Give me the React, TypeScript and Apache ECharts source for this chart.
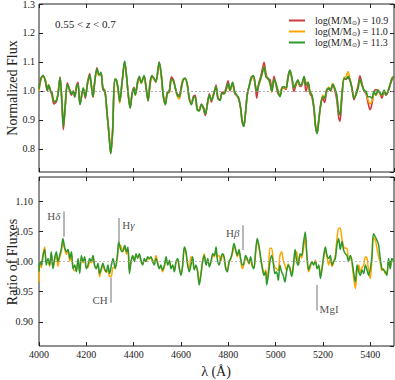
import React, { useEffect, useRef } from 'react';
import * as echarts from 'echarts';

// ---------- Top panel: normalized stacked spectra ----------
const wavelengthsTop = [
  4000, 4007, 4017, 4027, 4035, 4041, 4049, 4055, 4063, 4073,
  4080, 4089, 4097, 4103, 4111, 4120, 4130, 4137, 4145, 4151,
  4159, 4165, 4173, 4182, 4187, 4196, 4204, 4214, 4221, 4228,
  4235, 4245, 4254, 4262, 4270, 4279, 4287, 4296, 4303, 4311,
  4320, 4327, 4334, 4341, 4351, 4362, 4370, 4377, 4385, 4393,
  4401, 4407, 4417, 4424, 4432, 4444, 4452, 4461, 4469, 4477,
  4486, 4494, 4508, 4517, 4525, 4534, 4542, 4551, 4559, 4568,
  4576, 4584, 4593, 4601, 4610, 4618, 4627, 4635, 4644, 4652,
  4660, 4669, 4677, 4686, 4694, 4703, 4711, 4720, 4728, 4739,
  4748, 4756, 4765, 4773, 4782, 4790, 4799, 4807, 4818, 4827,
  4835, 4844, 4852, 4858, 4865, 4872, 4880, 4889, 4897, 4906,
  4914, 4920, 4928, 4937, 4945, 4951, 4959, 4968, 4976, 4984,
  4993, 5001, 5010, 5018, 5027, 5035, 5044, 5052, 5060, 5069,
  5077, 5086, 5094, 5103, 5111, 5120, 5128, 5137, 5145, 5153,
  5162, 5168, 5175, 5182, 5190, 5199, 5207, 5215, 5224, 5232,
  5241, 5249, 5258, 5266, 5272, 5280, 5289, 5297, 5306, 5314,
  5322, 5331, 5339, 5348, 5356, 5365, 5373, 5382, 5390, 5399,
  5407, 5415, 5424, 5432, 5441, 5449, 5458, 5466, 5474, 5483,
  5492, 5500,
];

const fluxMass109 = [
  1.005, 1.042, 1.053, 1.032, 1.0, 1.018, 0.998, 0.985, 0.955, 0.962,
  0.99, 1.048, 0.955, 0.866, 0.948, 1.028, 1.0, 0.985, 1.0, 0.978,
  1.02, 1.03, 0.955, 0.99, 1.005, 0.975, 1.025, 1.06, 1.02, 0.978,
  1.025, 1.08, 1.055, 1.058, 1.005, 0.995, 0.925, 0.848, 0.785, 0.862,
  1.038, 1.035, 1.005, 0.965, 1.028, 1.1, 1.048, 0.985, 0.945, 0.99,
  1.012, 0.99, 1.035, 1.045, 1.03, 1.05, 1.012, 0.965, 1.03, 1.05,
  1.04, 1.03, 1.1, 1.05, 0.98, 0.955, 0.995, 1.002, 1.048, 1.038,
  1.01, 0.99, 0.985, 1.015, 1.04, 1.04, 1.02, 0.97, 0.955, 0.98,
  0.985, 0.935, 0.935, 0.955, 0.94, 0.915, 0.955, 0.99, 0.962, 0.99,
  1.02, 0.972, 0.97, 0.995, 0.995, 1.01, 1.035, 1.0, 1.025, 0.99,
  0.985, 0.97, 0.94, 0.895, 0.878, 0.92, 0.99, 1.02, 1.048, 1.05,
  1.015, 0.975, 1.025, 1.05, 1.08, 1.099, 1.06, 1.04, 1.04, 1.0,
  1.05, 1.022, 0.99, 0.985, 1.012, 1.01, 1.005, 1.05, 1.07, 1.04,
  0.998, 1.02, 1.035, 1.015, 1.02, 1.045, 0.998, 1.025, 0.99, 0.98,
  0.935, 0.878, 0.855, 0.9, 0.95, 0.975, 0.96, 0.995, 1.008, 1.0,
  1.02, 1.005, 0.97, 0.91, 0.895, 0.98, 1.04, 1.04, 1.045, 1.035,
  1.012, 0.97, 0.99, 1.018, 1.052, 1.025, 1.0, 0.99, 0.96, 0.935,
  0.955, 0.995, 1.005, 1.0, 0.99, 0.975, 0.998, 0.985, 0.995, 1.018,
  1.04, 1.05,
];

const fluxMass110 = [
  1.0, 1.035, 1.05, 1.038, 1.01, 1.022, 1.0, 0.995, 0.965, 0.968,
  0.988, 1.045, 0.962, 0.88, 0.955, 1.02, 1.005, 0.992, 0.995, 0.982,
  1.012, 1.02, 0.955, 0.995, 1.01, 0.982, 1.018, 1.05, 1.018, 0.982,
  1.028, 1.07, 1.052, 1.06, 1.012, 1.0, 0.93, 0.85, 0.785, 0.858,
  1.04, 1.036, 1.008, 0.958, 1.028, 1.1, 1.05, 0.99, 0.942, 0.985,
  1.01, 0.985, 1.028, 1.048, 1.026, 1.05, 1.018, 0.97, 1.018, 1.05,
  1.042, 1.03, 1.095, 1.052, 0.988, 0.955, 0.99, 0.995, 1.035, 1.035,
  1.008, 0.982, 0.972, 1.005, 1.038, 1.042, 1.018, 0.975, 0.955, 0.975,
  0.978, 0.935, 0.932, 0.95, 0.945, 0.922, 0.95, 0.985, 0.968, 0.995,
  1.015, 0.978, 0.968, 0.99, 0.99, 1.0, 1.02, 1.003, 1.028, 0.996,
  0.985, 0.975, 0.942, 0.9, 0.88, 0.92, 0.985, 1.018, 1.04, 1.05,
  1.02, 1.0, 1.018, 1.04, 1.065, 1.085, 1.05, 1.042, 1.025, 0.995,
  1.038, 1.025, 1.0, 0.982, 1.008, 1.012, 1.008, 1.042, 1.07, 1.045,
  1.01, 1.025, 1.035, 1.018, 1.025, 1.045, 1.03, 1.028, 0.995, 0.985,
  0.942, 0.885, 0.855, 0.895, 0.95, 0.985, 0.978, 1.0, 1.012, 1.005,
  1.025, 1.012, 0.985, 0.93, 0.92, 0.99, 1.045, 1.05, 1.067, 1.04,
  1.012, 0.978, 0.985, 1.008, 1.038, 1.018, 1.002, 0.995, 0.97, 0.955,
  0.965, 0.99, 0.985, 1.005, 0.99, 0.985, 1.0, 0.988, 1.0, 1.022,
  1.045, 1.05,
];

const fluxMass113 = [
  1.005, 1.038, 1.053, 1.035, 1.003, 1.02, 1.0, 0.992, 0.963, 0.965,
  0.986, 1.046, 0.96, 0.877, 0.952, 1.023, 1.003, 0.99, 0.998, 0.98,
  1.015, 1.023, 0.952, 0.992, 1.01, 0.98, 1.02, 1.055, 1.02, 0.98,
  1.03, 1.076, 1.055, 1.064, 1.01, 0.998, 0.929, 0.848, 0.783, 0.86,
  1.041, 1.038, 1.01, 0.963, 1.03, 1.103, 1.05, 0.99, 0.94, 0.986,
  1.01, 0.986, 1.03, 1.05, 1.028, 1.053, 1.015, 0.967, 1.02, 1.053,
  1.044, 1.032, 1.099, 1.055, 0.986, 0.952, 0.992, 0.998, 1.04, 1.035,
  1.01, 0.986, 0.98, 1.01, 1.04, 1.044, 1.02, 0.975, 0.952, 0.975,
  0.98, 0.934, 0.931, 0.952, 0.945, 0.92, 0.952, 0.986, 0.967, 0.992,
  1.015, 0.975, 0.967, 0.992, 0.99, 1.003, 1.026, 1.003, 1.03, 0.998,
  0.986, 0.975, 0.94, 0.9, 0.877, 0.917, 0.986, 1.02, 1.044, 1.053,
  1.02, 0.998, 1.02, 1.044, 1.067, 1.084, 1.048, 1.044, 1.026, 0.998,
  1.04, 1.026, 0.998, 0.98, 1.01, 1.015, 1.01, 1.044, 1.072, 1.044,
  1.01, 1.026, 1.038, 1.02, 1.026, 1.05, 1.02, 1.03, 0.998, 0.986,
  0.94, 0.883, 0.852, 0.895, 0.952, 0.98, 0.975, 1.003, 1.01, 1.003,
  1.023, 1.01, 0.986, 0.929, 0.917, 0.986, 1.044, 1.041, 1.05, 1.038,
  1.01, 0.975, 0.986, 1.01, 1.04, 1.02, 1.003, 0.998, 0.98, 0.98,
  0.975, 0.998, 0.986, 1.003, 0.992, 0.986, 1.003, 0.986, 0.998, 1.02,
  1.044, 1.05,
];

const massLabels = ['10.9', '11.0', '11.3'];

// ---------- Bottom panel: flux ratios ----------
const wavelengthsRatio = [
  4000, 4003, 4010, 4017, 4024, 4031, 4038, 4045, 4052, 4059,
  4066, 4073, 4080, 4087, 4094, 4101, 4108, 4116, 4123, 4130,
  4137, 4144, 4151, 4158, 4165, 4172, 4179, 4186, 4193, 4200,
  4207, 4214, 4221, 4228, 4235, 4242, 4249, 4256, 4263, 4270,
  4277, 4284, 4291, 4298, 4306, 4313, 4322, 4331, 4337, 4345,
  4353, 4362, 4370, 4376, 4382, 4389, 4396, 4403, 4410, 4417,
  4424, 4431, 4438, 4445, 4452, 4459, 4466, 4473, 4480, 4487,
  4494, 4501, 4508, 4515, 4522, 4530, 4537, 4544, 4551, 4558,
  4565, 4572, 4579, 4586, 4593, 4600, 4607, 4614, 4621, 4628,
  4635, 4642, 4649, 4656, 4663, 4670, 4677, 4684, 4691, 4698,
  4706, 4713, 4720, 4727, 4734, 4741, 4748, 4753, 4761, 4768,
  4775, 4782, 4789, 4796, 4803, 4810, 4817, 4824, 4831, 4838,
  4845, 4852, 4859, 4866, 4873, 4880, 4887, 4894, 4901, 4908,
  4915, 4922, 4929, 4937, 4944, 4951, 4958, 4962, 4969, 4976,
  4983, 4990, 4997, 5004, 5011, 5018, 5025, 5032, 5039, 5046,
  5053, 5060, 5068, 5075, 5082, 5089, 5096, 5103, 5110, 5117,
  5125, 5132, 5139, 5146, 5153, 5160, 5168, 5175, 5182, 5189,
  5196, 5203, 5210, 5217, 5224, 5231, 5238, 5245, 5252, 5259,
  5266, 5273, 5280, 5287, 5294, 5301, 5308, 5315, 5322, 5329,
  5337, 5344, 5351, 5358, 5365, 5372, 5379, 5386, 5393, 5400,
  5407, 5413, 5421, 5428, 5435, 5442, 5449, 5456, 5463, 5470,
  5477, 5484, 5491, 5500,
];

const ratioMass110 = [
  0.966, 0.995, 0.99, 1.012, 1.024, 0.998, 1.002, 0.992, 1.012, 0.99,
  1.002, 1.012, 0.992, 1.006, 1.016, 1.032, 1.022, 1.012, 1.018, 1.0,
  1.012, 0.99, 0.985, 0.986, 1.0, 0.984, 1.006, 0.998, 1.004, 0.99,
  0.99, 1.0, 0.998, 1.006, 0.992, 0.99, 0.994, 0.975, 0.986, 0.994,
  0.986, 0.982, 0.985, 0.975, 0.976, 0.99, 0.99, 1.005, 1.025, 1.027,
  1.018, 1.022, 1.012, 1.02, 0.985, 1.0, 1.008, 1.002, 1.01, 1.008,
  1.01, 1.0, 0.996, 1.002, 1.0, 1.005, 1.004, 1.006, 1.002, 0.998,
  1.01, 1.0, 0.99, 0.99, 0.983, 0.992, 1.004, 0.996, 1.0, 0.99,
  0.992, 0.986, 0.998, 1.002, 0.99, 0.98, 0.992, 1.02, 1.014, 0.996,
  0.986, 1.008, 1.004, 0.988, 0.992, 0.985, 0.966, 0.98, 0.998, 1.013,
  0.996, 1.002, 0.994, 1.0, 1.01, 1.008, 1.02, 1.008, 1.01, 1.0,
  1.01, 1.006, 0.99, 0.986, 0.998, 1.004, 1.012, 1.025, 1.018, 1.008,
  1.016, 1.002, 0.988, 0.995, 1.006, 1.002, 0.996, 1.004, 0.992, 0.99,
  1.012, 1.032, 1.024, 1.004, 0.99, 0.98, 0.986, 0.97, 0.985, 1.022,
  1.022, 1.0, 0.99, 0.988, 0.985, 1.01, 1.016, 1.002, 0.994, 0.985,
  0.996, 0.99, 0.98, 0.992, 1.012, 1.016, 0.996, 1.01, 1.006, 1.02,
  1.04, 1.008, 0.983, 0.99, 0.998, 0.996, 1.002, 0.99, 0.992, 0.978,
  0.99, 1.006, 1.018, 1.008, 0.994, 1.004, 0.992, 0.998, 1.01, 1.038,
  1.055, 1.055, 1.038, 1.025, 1.022, 1.022, 1.004, 1.006, 0.998, 0.975,
  0.955, 0.985, 0.994, 0.982, 0.99, 0.994, 1.008, 1.005, 0.983, 0.972,
  1.005, 1.04, 1.035, 1.022, 1.008, 0.998, 0.985, 0.988, 0.98, 0.982,
  1.0, 0.99, 1.0, 1.0,
];

const ratioMass113 = [
  0.983, 1.0, 0.994, 1.01, 1.02, 0.994, 1.005, 0.994, 1.016, 0.988,
  1.005, 1.016, 1.0, 1.01, 1.02, 1.038, 1.024, 1.016, 1.02, 1.005,
  1.016, 0.988, 0.994, 0.983, 1.005, 0.98, 1.01, 1.0, 1.008, 0.988,
  0.994, 1.005, 1.0, 1.01, 0.994, 0.988, 0.997, 0.98, 0.988, 0.997,
  0.988, 0.983, 0.994, 0.98, 0.994, 1.005, 0.988, 1.01, 1.033, 1.02,
  1.016, 1.027, 1.016, 1.024, 0.98, 1.0, 1.01, 1.0, 1.013, 1.005,
  1.013, 1.002, 0.994, 1.005, 1.0, 1.008, 1.005, 1.008, 1.0, 0.994,
  1.005, 0.997, 0.988, 0.994, 0.986, 0.994, 1.008, 0.994, 1.002, 0.988,
  0.994, 0.983, 1.0, 1.005, 0.988, 0.977, 0.994, 1.024, 1.016, 0.994,
  0.983, 0.994, 1.008, 0.986, 0.994, 0.983, 0.961, 0.977, 1.0, 1.01,
  0.994, 1.005, 0.991, 1.0, 1.013, 1.01, 1.024, 1.005, 0.994, 1.005,
  1.013, 1.008, 0.988, 0.983, 1.0, 1.005, 1.016, 1.03, 1.02, 1.01,
  1.02, 1.005, 0.994, 0.997, 1.01, 1.005, 0.997, 1.008, 0.994, 0.988,
  1.016, 1.038, 1.027, 1.005, 0.988, 0.977, 0.983, 0.961, 0.977, 1.0,
  1.01, 0.997, 0.98, 0.983, 0.969, 0.994, 0.983, 0.977, 0.966, 0.983,
  0.994, 0.988, 0.975, 0.994, 1.02, 1.0, 0.994, 1.013, 1.01, 1.03,
  1.049, 1.01, 0.986, 0.994, 1.0, 0.994, 1.0, 0.988, 0.994, 0.972,
  0.988, 1.01, 1.024, 1.01, 1.005, 1.01, 0.994, 1.0, 1.005, 1.027,
  1.038, 1.02, 1.033, 1.019, 1.013, 1.01, 1.0, 1.01, 1.002, 0.983,
  0.966, 0.994, 0.983, 0.977, 0.986, 0.98, 0.994, 0.986, 0.977, 0.988,
  1.01, 1.046, 1.041, 1.035, 1.027, 1.005, 0.988, 0.986, 0.983, 0.977,
  1.005, 0.988, 1.005, 1.0,
];

// ---------- Spectral feature annotations (bottom panel) ----------
const featureNames = ['Hδ', 'Hγ', 'CH', 'Hβ', 'MgI'];
const featureWavelengths = [4103, 4339, 4303, 4860, 5173];
const featureLineLow = [1.041, 1.032, 0.9315, 1.019, 0.919];
const featureLineHigh = [1.083, 1.072, 0.9735, 1.06, 0.961];
const featureLabelValue = [1.075, 1.06, 0.937, 1.048, 0.921];
const featureLabelSide = ['left', 'right', 'left', 'left', 'right'];

const redshiftText = '0.55 < {i|z} < 0.7';
const topYTitle = 'Normalized Flux';
const bottomYTitle = 'Ratio of Fluxes';
const xTitle = 'λ (Å)';

const FONT = 'Liberation Serif';
const INK = '#222';
const COLORS = ['#d03a3a', '#ffa500', '#2c982c'];

const zip = (xs: number[], ys: number[]) => xs.map((x, i) => [x, ys[i]]);

export default function App() {
  const ref = useRef<HTMLDivElement>(null);

  useEffect(() => {
    if (!ref.current) return;
    const chart = echarts.init(ref.current, undefined, { renderer: 'svg' });

    const tick = { show: true, inside: true, length: 4, lineStyle: { color: INK, width: 1 } };
    const xBase = {
      type: 'value',
      min: 4000,
      max: 5500,
      interval: 200,
      axisLine: { show: false },
      axisTick: tick,
      splitLine: { show: false },
    };
    const seriesNames = massLabels.map((m) => `log(M/M⊙) = ${m}`);
    const topFlux = [fluxMass109, fluxMass110, fluxMass113];
    const richNames = featureNames.map((n) => n.replace(/([δγβ])/, '{i|$1}'));

    const option: any = {
      animation: false,
      textStyle: { fontFamily: FONT, color: INK },
      grid: [
        { left: 39, right: 1, top: 4, height: 168, show: true, borderColor: INK, borderWidth: 1, backgroundColor: 'transparent', outerBoundsMode: 'none', containLabel: false },
        { left: 39, right: 1, top: 177, height: 169, show: true, borderColor: INK, borderWidth: 1, backgroundColor: 'transparent', outerBoundsMode: 'none', containLabel: false },
      ],
      xAxis: [
        { ...xBase, gridIndex: 0, position: 'bottom', axisLabel: { show: false } },
        { ...xBase, gridIndex: 0, position: 'top', axisLabel: { show: false } },
        {
          ...xBase,
          gridIndex: 1,
          position: 'bottom',
          axisLabel: {
            show: true, fontSize: 10, color: INK, fontFamily: FONT, margin: 3, showMaxLabel: false,
            formatter: (v: number) => String(v),
          },
        },
        { ...xBase, gridIndex: 1, position: 'top', axisLabel: { show: false } },
      ],
      yAxis: [
        {
          type: 'value', gridIndex: 0, position: 'left', min: 0.72, max: 1.3, minInterval: 0.1, maxInterval: 0.1, splitNumber: 5,
          axisLine: { show: false }, axisTick: tick, splitLine: { show: false },
          axisLabel: { fontSize: 10, color: INK, fontFamily: FONT, margin: 4, showMinLabel: false, formatter: (v: number) => v.toFixed(1) },
        },
        {
          type: 'value', gridIndex: 0, position: 'right', min: 0.72, max: 1.3, minInterval: 0.1, maxInterval: 0.1, splitNumber: 5,
          axisLine: { show: false }, axisTick: tick, splitLine: { show: false }, axisLabel: { show: false },
        },
        {
          type: 'value', gridIndex: 1, position: 'left', min: 0.86, max: 1.14, minInterval: 0.05, maxInterval: 0.05, splitNumber: 5,
          axisLine: { show: false }, axisTick: tick, splitLine: { show: false },
          axisLabel: { fontSize: 10, color: INK, fontFamily: FONT, margin: 6, showMinLabel: false, showMaxLabel: false, formatter: (v: number) => v.toFixed(2) },
        },
        {
          type: 'value', gridIndex: 1, position: 'right', min: 0.86, max: 1.14, minInterval: 0.05, maxInterval: 0.05, splitNumber: 5,
          axisLine: { show: false }, axisTick: tick, splitLine: { show: false }, axisLabel: { show: false },
        },
      ],
      legend: {
        data: seriesNames,
        orient: 'vertical',
        left: 284,
        top: 10,
        itemWidth: 16,
        itemHeight: 2,
        itemGap: 0,
        icon: 'rect',
        formatter: (name: string) => name.replace('⊙', '{s|⊙}'),
        textStyle: {
          fontFamily: FONT,
          fontSize: 10,
          color: INK,
          lineHeight: 11,
          padding: [0, 0, 0, 5],
          rich: {
            s: { fontFamily: FONT, fontSize: 6, color: INK, padding: [5, 0, 0, 0] },
          },
        },
      },
      graphic: [
        {
          type: 'text', x: 55, y: 24,
          style: {
            text: redshiftText, font: `11px "${FONT}"`, fill: INK, verticalAlign: 'middle', align: 'left',
            rich: { i: { fontFamily: FONT, fontSize: 11, fontStyle: 'italic', fill: INK } },
          },
        },
        {
          type: 'text', x: 12, y: 88, rotation: Math.PI / 2,
          style: { text: topYTitle, font: `14px "${FONT}"`, fill: INK, align: 'center', verticalAlign: 'middle' },
        },
        {
          type: 'text', x: 12, y: 262, rotation: Math.PI / 2,
          style: { text: bottomYTitle, font: `14px "${FONT}"`, fill: INK, align: 'center', verticalAlign: 'middle' },
        },
        {
          type: 'text', x: 216, y: 371,
          style: { text: xTitle, font: `14px "${FONT}"`, fill: INK, align: 'center', verticalAlign: 'middle' },
        },
      ],
      series: [
        ...topFlux.map((flux, k) => ({
          name: seriesNames[k],
          type: 'line',
          xAxisIndex: 0,
          yAxisIndex: 0,
          data: zip(wavelengthsTop, flux),
          showSymbol: false,
          symbol: 'none',
          smooth: 0.3,
          color: COLORS[k],
          lineStyle: { color: COLORS[k], width: 1.6 },
          z: 2 + k,
          markLine: k === 0 ? {
            silent: true, symbol: ['none', 'none'], label: { show: false },
            lineStyle: { color: '#999', width: 0.8, type: [2, 2] },
            data: [{ yAxis: 1 }],
          } : undefined,
        })),
        {
          name: 'ratio 11.0',
          type: 'line',
          xAxisIndex: 2,
          yAxisIndex: 2,
          data: zip(wavelengthsRatio, ratioMass110),
          showSymbol: false,
          symbol: 'none',
          smooth: 0.3,
          color: COLORS[1],
          lineStyle: { color: COLORS[1], width: 1.5 },
          z: 2,
          markLine: {
            silent: true, symbol: ['none', 'none'], label: { show: false },
            lineStyle: { color: '#aaa', width: 0.8, type: [2, 2] },
            data: [{ yAxis: 1 }],
          },
        },
        {
          name: 'ratio 11.3',
          type: 'line',
          xAxisIndex: 2,
          yAxisIndex: 2,
          data: zip(wavelengthsRatio, ratioMass113),
          showSymbol: false,
          symbol: 'none',
          smooth: 0.3,
          color: COLORS[2],
          lineStyle: { color: COLORS[2], width: 1.5 },
          z: 3,
          markLine: {
            silent: true, symbol: ['none', 'none'], label: { show: false },
            lineStyle: { color: '#a0a0a0', width: 1.5, type: 'solid' },
            data: featureWavelengths.map((w, i) => [
              { coord: [w, featureLineLow[i]] },
              { coord: [w, featureLineHigh[i]] },
            ]),
          },
        },
        {
          name: 'features',
          type: 'scatter',
          xAxisIndex: 2,
          yAxisIndex: 2,
          symbolSize: 0,
          silent: true,
          z: 5,
          data: featureNames.map((n, i) => ({
            value: [featureWavelengths[i], featureLabelValue[i]],
            label: { position: featureLabelSide[i] },
          })),
          label: {
            show: true,
            distance: 3,
            fontFamily: FONT,
            fontSize: 11,
            color: INK,
            formatter: (p: any) => richNames[p.dataIndex],
            rich: { i: { fontFamily: FONT, fontSize: 11, fontStyle: 'italic', color: INK } },
          },
        },
      ],
    };

    chart.setOption(option);
    return () => chart.dispose();
  }, []);

  return (
    <div
      ref={ref}
      style={{ position: 'fixed', left: 0, top: 0, width: 395, height: 380, background: '#fff' }}
    />
  );
}
